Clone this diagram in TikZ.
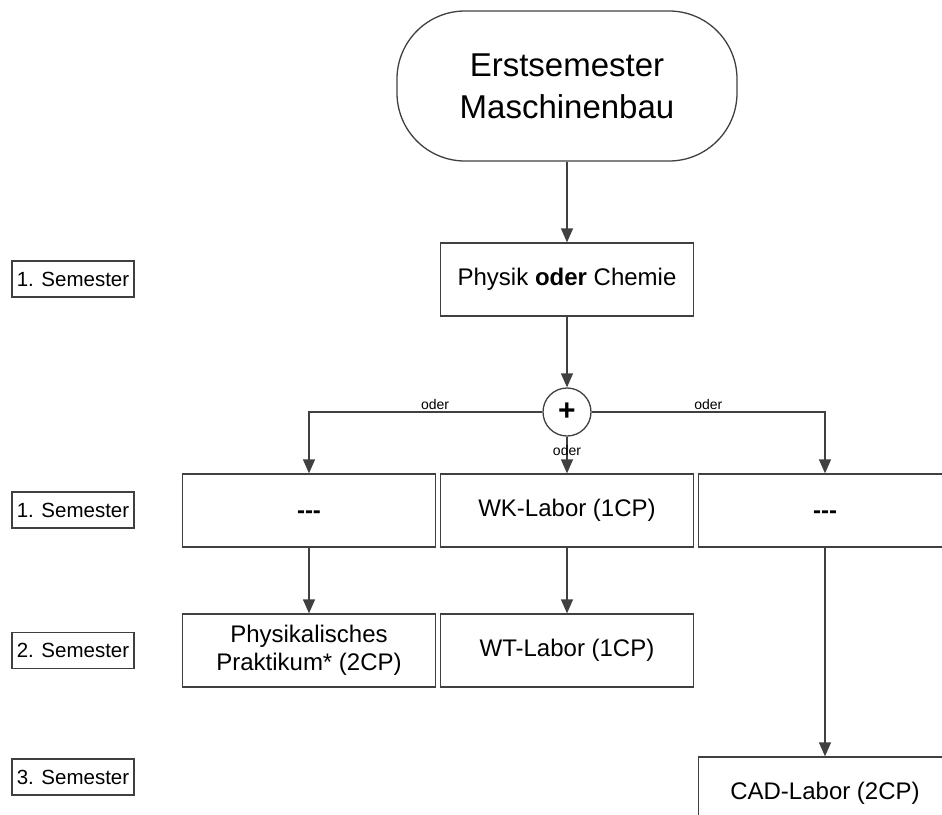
\documentclass[tikz,border=0pt]{standalone}
\usepackage{fontspec}
\setmainfont{Liberation Sans}
\usetikzlibrary{arrows.meta}
\tikzset{
	linie/.style={draw=black!75, line width=1.3pt},
	start/.style={linie, rounded corners=68pt, minimum width=340pt, minimum height=150pt, inner sep=0pt, align=center, font=\fontsize{33}{42}\selectfont},
	kasten/.style={linie, minimum width=253pt, minimum height=73pt, inner sep=0pt, align=center, font=\fontsize{24}{28}\selectfont},
	leer/.style={kasten, text height=16pt, text depth=0pt, font=\bfseries\fontsize{24}{28}\selectfont},
	semester/.style={linie, minimum width=122pt, minimum height=36pt, inner sep=0pt, font=\fontsize{20.5}{24}\selectfont},
	pfeil/.style={linie, -{Triangle[width=12pt,length=14pt]}},
	odertext/.style={inner sep=2pt, font=\fontsize{14}{16}\selectfont}
}
\begin{document}
\begin{tikzpicture}[x=1pt,y=-1pt]
		\useasboundingbox (0,0) rectangle (942,814);
		\clip (0,0) rectangle (942,814);
		% Start
		\node[start] (start) at (567,86) {Erstsemester\\Maschinenbau};
		\node[kasten] (fach) at (567,279.5) {Physik \textbf{oder} Chemie};
		\node[linie, circle, minimum size=48pt, inner sep=0pt, font=\bfseries\fontsize{30}{30}\selectfont] (plus) at (567,412) {+};
		% Laborkaesten
		\node[leer] (leerA) at (309,510.5) {\mbox{-}\mbox{-}\mbox{-}};
		\node[kasten] (wk) at (567,510.5) {WK-Labor (1CP)};
		\node[leer] (leerB) at (825,510.5) {\mbox{-}\mbox{-}\mbox{-}};
		\node[kasten] (praktikum) at (309,650.5) {Physikalisches\\Praktikum* (2CP)};
		\node[kasten] (wt) at (567,650.5) {WT-Labor (1CP)};
		\node[kasten] (cad) at (825,793.5) {CAD-Labor (2CP)};
		% Semester
		\node[semester] (sem1a) at (73,279) {1. Semester};
		\node[semester] (sem1b) at (73,510) {1. Semester};
		\node[semester] (sem2) at (73,650.5) {2. Semester};
		\node[semester] (sem3) at (73,777) {3. Semester};
		% Pfeile
		\draw[pfeil] (start.south) -- (fach.north);
		\draw[pfeil] (fach.south) -- (plus.north);
		\draw[pfeil] (plus.west) -| node[odertext, above, pos=0.23] {oder} (leerA.north);
		\draw[pfeil] (plus.east) -| node[odertext, above, pos=0.25] {oder} (leerB.north);
		\draw[pfeil] (plus.south) -- node[odertext, pos=0.37] {oder} (wk.north);
		\draw[pfeil] (leerA.south) -- (praktikum.north);
		\draw[pfeil] (wk.south) -- (wt.north);
		\draw[pfeil] (leerB.south) -- (cad.north);
	\end{tikzpicture}
\end{document}
